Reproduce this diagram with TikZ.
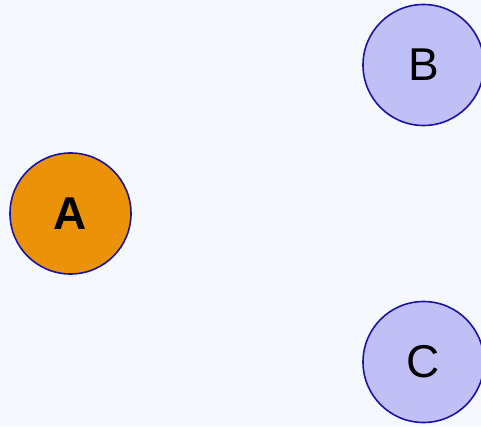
\documentclass[tikz,border=0pt]{standalone}
\usepackage{fontspec}
\setmainfont{Liberation Sans}
\usepackage{xcolor}
\definecolor{bgblue}{HTML}{F5F8FE}
\definecolor{rimblue}{HTML}{1A14A6}
\definecolor{orangefill}{HTML}{EC9209}
\definecolor{lavender}{HTML}{C0C0F7}
\tikzset{
  vertex/.style={circle, draw=rimblue, line width=1.6pt, minimum size=121pt, inner sep=0pt, font=\fontsize{46}{46}\selectfont},
}

\begin{document}
\begin{tikzpicture}[x=1pt,y=1pt]
%background
\fill[bgblue] (0,0) rectangle (481,426);
\useasboundingbox (0,0) rectangle (481,426);
 %vertices
\node[vertex, fill=orangefill, font=\fontsize{46}{46}\selectfont\bfseries] (a) at (70.5,212.5) {A};
\node[vertex, fill=lavender] (b) at (423.5,361) {B};
\node[vertex, fill=lavender] (c) at (423.5,64) {C};

\end{tikzpicture}
\end{document}
